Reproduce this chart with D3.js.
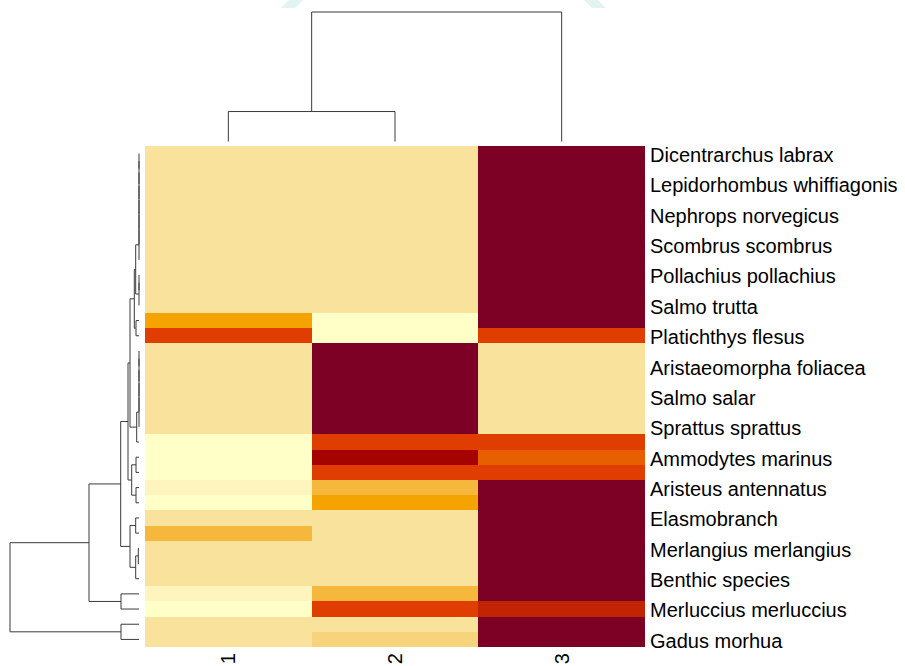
<!DOCTYPE html>
<html>
<head>
<meta charset="utf-8">
<script src="https://cdn.jsdelivr.net/npm/d3@7"></script>
<style>
  html, body { margin: 0; padding: 0; background: #fff; }
  svg { display: block; }
  text { font-family: "Liberation Sans", Arial, sans-serif; }
</style>
</head>
<body>
<svg id="chart" width="905" height="666"></svg>
<script>
// ---- data -------------------------------------------------------------
const columns = ["1", "2", "3"];

// row labels (every second row of the clustered order carries a label)
const rowLabels = [
  "Dicentrarchus labrax", "Lepidorhombus whiffiagonis", "Nephrops norvegicus",
  "Scombrus scombrus", "Pollachius pollachius", "Salmo trutta",
  "Platichthys flesus", "Aristaeomorpha foliacea", "Salmo salar",
  "Sprattus sprattus", "Ammodytes marinus", "Aristeus antennatus",
  "Elasmobranch", "Merlangius merlangius", "Benthic species",
  "Merluccius merluccius", "Gadus morhua"
];

// cell values per column, rows in dendrogram order (top to bottom)
const cluster1 = [14,14,14,14,14,14,14,14,14,14,14, 40,64, 14,14,14,14,14,14, 0,0,0, 6,0, 14,32,14,14,14, 6,0, 14,14];
const cluster2 = [14,14,14,14,14,14,14,14,14,14,14, 0,0, 100,100,100,100,100,100, 64,85,64, 32,40, 14,14,14,14,14, 32,64, 14,20];
const cluster3 = [100,100,100,100,100,100,100,100,100,100,100, 100,64, 14,14,14,14,14,14, 64,58,64, 100,100, 100,100,100,100,100, 100,75, 100,100];

// row dendrogram as hclust-style merges: negative = leaf -(i+1), positive = earlier merge (1-based)
const rowMergeA = [-1, 1, 2, 3, 4, 5, 6, -9, 8, 7, -12, 10, -14, 13, 14, 15, 16, 17, 12, -21, -23, 20, 19, -25, -27, 25, 24, 23, -30, 28, -32, 30];
const rowMergeB = [-2,-3,-4,-5,-6,-7,-8,-10,-11, 9, -13, 11, -15,-16,-17,-18,-19,-20, 18, -22, -24, 21, 22, -26, -28, -29, 26, 27, -31, 29, -33, 31];
const rowMergeHeight = [0,0,0,0,0,0,0, 0,0, 0.33, 0.30, 0.47, 0,0,0,0,0, 0.23, 0.9, 0.30, 0.30, 0.73, 1.1, 0.33, 0.07, 0.33, 0.9, 1.83, 1.8, 5.0, 1.8, 12.9];

// column dendrogram
const colMergeA = [-1, 1];
const colMergeB = [-2, -3];
const colMergeHeight = [3.0, 12.97];

// ---- colour scale ----------------------------------------------------
const paletteStops  = [0, 6, 14, 20, 32, 40, 58, 64, 75, 85, 100];
const paletteColors = ["#FFFFC8", "#FEF4BE", "#F9E29B", "#F7D37C", "#F5B73C", "#F4A300",
                       "#E75F00", "#DF3E00", "#C02400", "#A50300", "#7D0025"];
const color = d3.scaleLinear().domain(paletteStops).range(paletteColors).interpolate(d3.interpolateRgb);

// ---- layout ----------------------------------------------------------
const svg = d3.select("#chart");
const nRows = cluster1.length;
const series = [cluster1, cluster2, cluster3];

const x = d3.scaleBand().domain(columns).range([145, 645]);
const y = d3.scaleBand().domain(d3.range(nRows)).range([146, 647]);

// watermark remnants along the top edge
svg.append("g").attr("fill", "#E2F4F1")
  .selectAll("polygon")
  .data([[[281, 8], [289, 0], [303, 0], [295, 8]], [[584, 0], [598, 0], [606, 8], [592, 8]]])
  .join("polygon")
  .attr("points", d => d.map(p => p.join(",")).join(" "));

// heatmap cells
const cells = [];
series.forEach((vals, ci) => vals.forEach((v, ri) => cells.push({ col: columns[ci], row: ri, v })));
svg.append("g").attr("shape-rendering", "crispEdges")
  .selectAll("rect").data(cells).join("rect")
  .attr("x", d => x(d.col))
  .attr("y", d => y(d.row))
  .attr("width", x.bandwidth())
  .attr("height", y.bandwidth())
  .attr("fill", d => color(d.v));

// ---- dendrograms ----------------------------------------------------
// each merge sits at the midpoint of its two children
function dendroPaths(mA, mB, mH, leafPos) {
  const pos = [];
  const paths = [];
  const ref = k => k < 0 ? { p: leafPos(-k - 1), h: 0 } : { p: pos[k - 1], h: mH[k - 1] };
  mA.forEach((a, i) => {
    const A = ref(a), B = ref(mB[i]);
    pos[i] = (A.p + B.p) / 2;
    paths.push({ a: A, b: B, h: mH[i] });
  });
  return paths;
}

const rowH = d3.scaleLinear().domain([0, 12.9]).range([139, 10]);
const rowLeaf = i => y(i) + y.bandwidth() / 2;
const rowPaths = dendroPaths(rowMergeA, rowMergeB, rowMergeHeight, rowLeaf);
svg.append("g").attr("fill", "none").attr("stroke", "#3a3a3a").attr("stroke-width", 1)
  .selectAll("path").data(rowPaths).join("path")
  .attr("d", d => `M${rowH(d.a.h)},${d.a.p}H${rowH(d.h)}V${d.b.p}H${rowH(d.b.h)}`);

const colH = d3.scaleLinear().domain([0, 12.97]).range([141.5, 12]);
const colLeaf = i => x(columns[i]) + x.bandwidth() / 2;
const colPaths = dendroPaths(colMergeA, colMergeB, colMergeHeight, colLeaf);
svg.append("g").attr("fill", "none").attr("stroke", "#3a3a3a").attr("stroke-width", 1)
  .selectAll("path").data(colPaths).join("path")
  .attr("d", d => `M${d.a.p},${colH(d.a.h)}V${colH(d.h)}H${d.b.p}V${colH(d.b.h)}`);

// ---- labels -----------------------------------------------------------
svg.append("g")
  .selectAll("text").data(rowLabels).join("text")
  .attr("x", 650)
  .attr("y", (d, i) => rowLeaf(i * 2))
  .attr("dy", "0.42em")
  .attr("font-size", 20)
  .attr("fill", "#000")
  .text(d => d);

svg.append("g")
  .selectAll("text").data(columns).join("text")
  .attr("transform", d => `translate(${x(d) + x.bandwidth() / 2},653) rotate(-90)`)
  .attr("text-anchor", "end")
  .attr("dy", "0.35em")
  .attr("font-size", 20)
  .attr("fill", "#000")
  .text(d => d);
</script>
</body>
</html>
